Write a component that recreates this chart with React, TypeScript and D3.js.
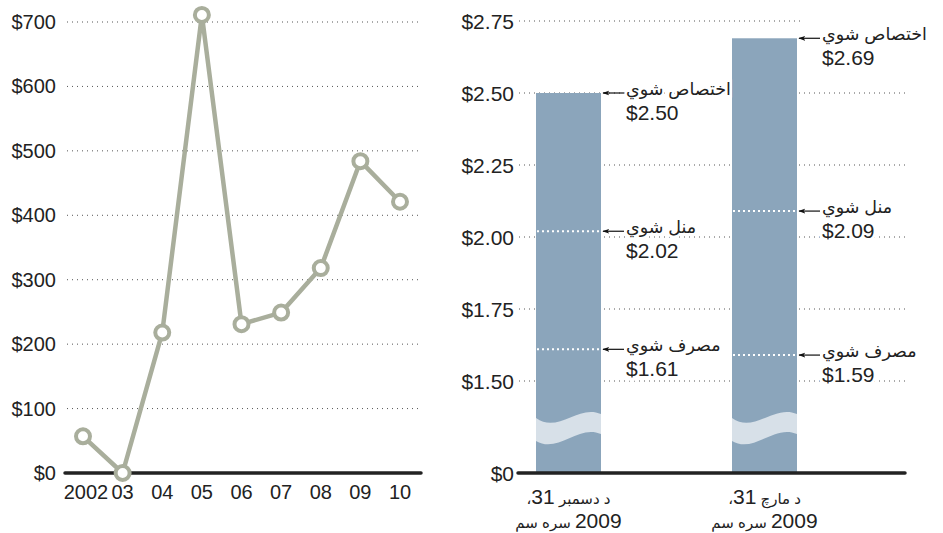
import React from 'react';
import * as d3 from 'd3';

// left chart: yearly values
const years = ['2002', '03', '04', '05', '06', '07', '08', '09', '10'];
const yearValues = [57, 0, 218, 711, 231, 249, 318, 484, 421];
const leftTicks = [0, 100, 200, 300, 400, 500, 600, 700];

// right chart: two dates, three amounts each
const dateLine1 = ['د دسمبر 31،', 'د مارچ 31،'];
const dateLine2 = ['2009 سره سم', '2009 سره سم'];
const allocated = [2.5, 2.69];
const approved = [2.02, 2.09];
const spent = [1.61, 1.59];
const allocatedLabel = 'اختصاص شوي';
const approvedLabel = 'منل شوي';
const spentLabel = 'مصرف شوي';
const rightTicks = [1.5, 1.75, 2, 2.25, 2.5, 2.75];

const FONT = '"Liberation Sans", Arial, "DejaVu Sans", sans-serif';
const LINE = '#a9ae9c';
const BAR = '#8ba5bb';
const BREAK = '#d7e0e8';
const TXT = '#222';

// digits bigger than the arabic words, like the original
function MixedText({ s }: { s: string }) {
  const parts = s.split(/([0-9]+)/).filter((p) => p !== '');
  return (
    <>
      {parts.map((p, i) => (
        <tspan key={i} fontSize={/[0-9]/.test(p) ? 21 : 15}>
          {p}
        </tspan>
      ))}
    </>
  );
}

function App() {
  // left scales
  const x = d3.scalePoint<string>().domain(years).range([83, 400]);
  const y = d3.scaleLinear().domain([0, 700]).range([473, 22]);
  const line = d3
    .line<number>()
    .x((d, i) => x(years[i]) as number)
    .y((d) => y(d));

  // right scales
  const xb = d3.scalePoint<number>().domain([0, 1]).range([568.5, 764.5]);
  const yb = d3.scaleLinear().domain([1.5, 2.75]).range([381, 21]);
  const barW = 65;
  const zeroY = 473;
  const breakY = 428;
  const money = (v: number) => '$' + d3.format('.2f')(v);

  const annotations: { i: number; v: number; label: string }[] = [];
  [0, 1].forEach((i) => {
    annotations.push({ i, v: allocated[i], label: allocatedLabel });
    annotations.push({ i, v: approved[i], label: approvedLabel });
    annotations.push({ i, v: spent[i], label: spentLabel });
  });

  return (
    <div style={{ position: 'absolute', left: 0, top: 0 }}>
      <svg width={943} height={533} style={{ display: 'block', fontFamily: FONT }}>
        <defs>
          <marker id="arr" viewBox="0 0 10 10" refX="9" refY="5" markerWidth="7" markerHeight="7" orient="auto" markerUnits="userSpaceOnUse">
            <path d="M0,1.5 L10,5 L0,8.5 L2.5,5 Z" fill="#111" />
          </marker>
        </defs>
        <rect width={943} height={533} fill="#fff" />

        {/* ---------- left chart ---------- */}
        {leftTicks.map((t) => (
          <g key={'lt' + t}>
            {t > 0 && (
              <line x1={67} x2={420} y1={y(t)} y2={y(t)} stroke="#555" strokeWidth={1} strokeDasharray="1,4" />
            )}
            <text x={56} y={y(t) + 7} textAnchor="end" fontSize={20} fill={TXT}>
              {'$' + t}
            </text>
          </g>
        ))}
        <line x1={65} x2={421} y1={473} y2={473} stroke="#222" strokeWidth={3.5} strokeLinecap="round" />
        {years.map((yr) => (
          <text key={'yr' + yr} x={(x(yr) as number) + (yr === '2002' ? 3 : 0)} y={499} textAnchor="middle" fontSize={20} fill={TXT}>
            {yr}
          </text>
        ))}
        <path d={line(yearValues) || ''} fill="none" stroke={LINE} strokeWidth={4.5} strokeLinejoin="round" />
        {yearValues.map((v, i) => (
          <circle key={'pt' + i} cx={x(years[i])} cy={y(v)} r={7} fill="#fff" stroke={LINE} strokeWidth={4} />
        ))}

        {/* ---------- right chart ---------- */}
        {rightTicks.map((t) => (
          <g key={'rt' + t}>
            <line x1={519} x2={t === 2.75 ? 802 : 907} y1={yb(t)} y2={yb(t)} stroke="#555" strokeWidth={1} strokeDasharray="1,4" />
            <text x={514} y={yb(t) + 7.5} textAnchor="end" fontSize={21} fill={TXT}>
              {money(t)}
            </text>
          </g>
        ))}
        <text x={514} y={zeroY + 7.5} textAnchor="end" fontSize={21} fill={TXT}>
          $0
        </text>

        {allocated.map((v, i) => {
          const cx = xb(i) as number;
          const x0 = cx - barW / 2;
          const x1 = cx + barW / 2;
          return (
            <g key={'bar' + i}>
              <rect x={x0} y={yb(v)} width={barW} height={zeroY - yb(v)} fill={BAR} />
              <path
                d={`M${x0},${breakY - 10} C${x0 + 22},${breakY + 6} ${x0 + 42},${breakY - 24} ${x1},${breakY - 14}
                    L${x1},${breakY + 6} C${x0 + 42},${breakY - 4} ${x0 + 22},${breakY + 26} ${x0},${breakY + 13} Z`}
                fill={BREAK}
              />
              <line x1={x0 + 1} x2={x1} y1={yb(approved[i])} y2={yb(approved[i])} stroke="#fff" strokeWidth={2} strokeDasharray="2,3" />
              <line x1={x0 + 1} x2={x1} y1={yb(spent[i])} y2={yb(spent[i])} stroke="#fff" strokeWidth={2} strokeDasharray="2,3" />
              <text direction="rtl" textAnchor="middle" x={cx} y={504} fill={TXT}>
                <MixedText s={dateLine1[i]} />
              </text>
              <text direction="rtl" textAnchor="middle" x={cx} y={528} fill={TXT}>
                <MixedText s={dateLine2[i]} />
              </text>
            </g>
          );
        })}
        <line x1={518} x2={905} y1={zeroY} y2={zeroY} stroke="#222" strokeWidth={3.5} strokeLinecap="round" />

        {annotations.map((a, k) => {
          const x1 = (xb(a.i) as number) + barW / 2;
          const yy = yb(a.v);
          const tx = x1 + 25;
          return (
            <g key={'an' + k}>
              <text x={tx} y={yy + 27} fontSize={21} fill={TXT} stroke="#fff" strokeWidth={6} style={{ paintOrder: 'stroke' }}>
                {money(a.v)}
              </text>
              <text x={tx} y={yy + 2} fontSize={17.5} fill={TXT} stroke="#fff" strokeWidth={5} style={{ paintOrder: 'stroke' }}>
                {a.label}
              </text>
              <line x1={tx - 2} x2={x1 + 2} y1={yy} y2={yy} stroke="#111" strokeWidth={1.2} markerEnd="url(#arr)" />
            </g>
          );
        })}
      </svg>
    </div>
  );
}

export default App;
